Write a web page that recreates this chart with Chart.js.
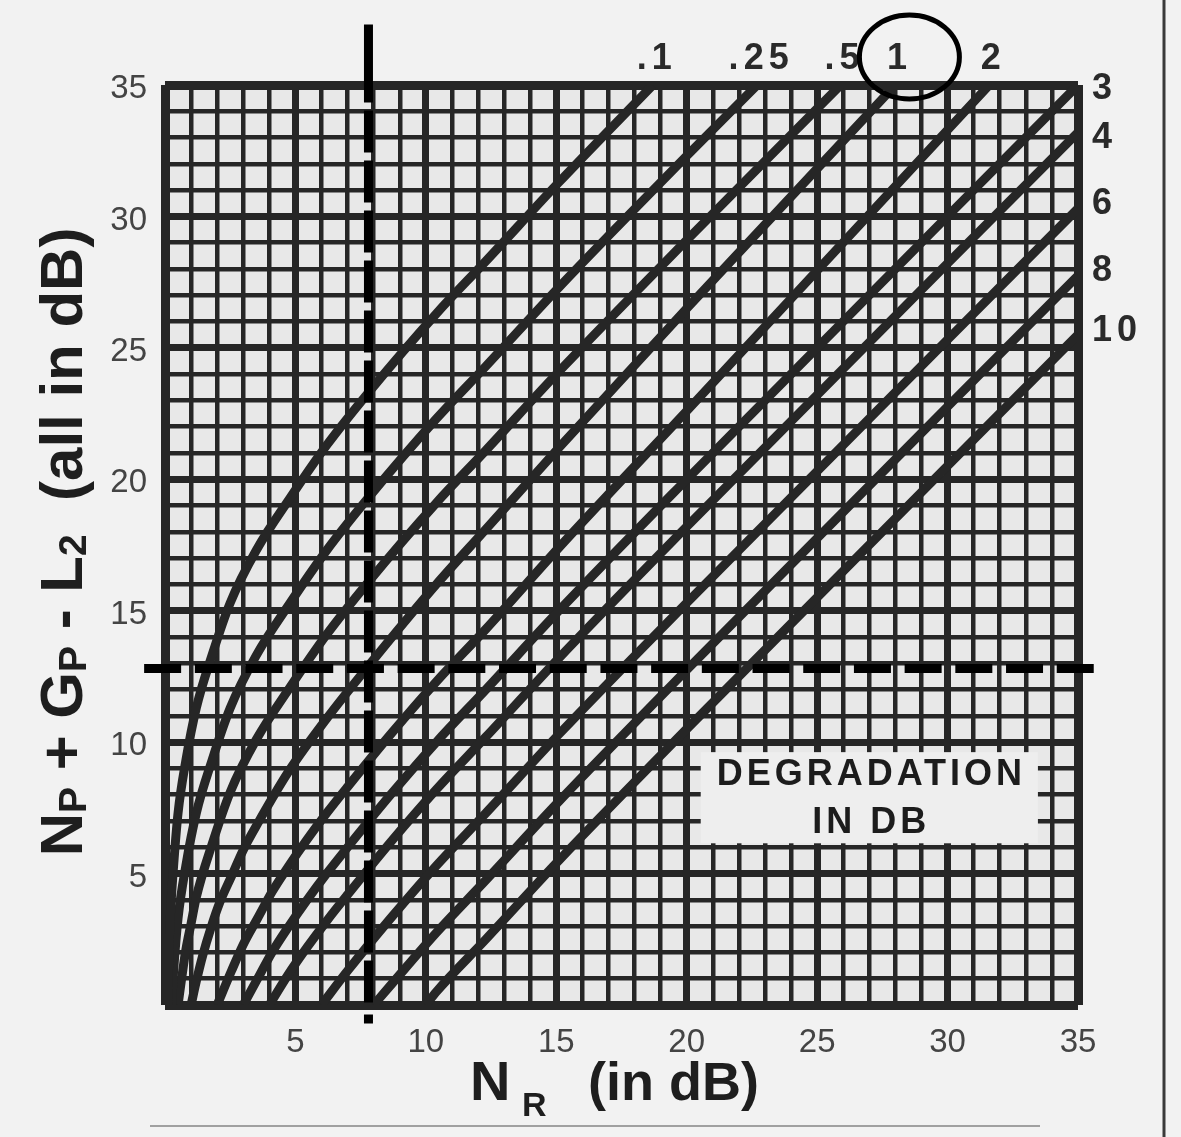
<!DOCTYPE html>
<html lang="en">
<head>
<meta charset="UTF-8">
<title>Noise degradation chart</title>
<style>
  html, body { margin: 0; padding: 0; background: #f2f2f2; }
  canvas { display: block; }
</style>
</head>
<body>
<canvas id="myChart" width="1181" height="1137"></canvas>
<script src="https://cdn.jsdelivr.net/npm/chart.js"></script>
<script>
// degradation curves, [N_R, Np+Gp-L2] in dB
const curveLabels = ['.1', '.25', '.5', '1', '2', '3', '4', '6', '8', '10']
const d01 = [[0.1,0],[0.15,2],[0.2,3.3],[0.33,5.3],[0.5,7.3],[0.8,9.3],[1.2,11.3],[1.8,13.3],[2.5,15.3],[3.5,17.3],[4.8,19.3],[6.2,21.3],[7.8,23.3],[10.4,26.3],[12.3,28.3],[15.1,31.3],[18.7,35]]
const d025 = [[0.25,0],[0.33,1.3],[0.5,3.3],[0.8,5.3],[1.2,7.3],[1.8,9.3],[2.5,11.3],[3.5,13.3],[4.8,15.3],[6.2,17.3],[7.8,19.3],[10.4,22.3],[12.3,24.3],[15.1,27.3],[20,32.3],[22.7,35]]
const d05 = [[0.5,0],[0.65,1.1],[0.8,2.1],[1,3.1],[1.2,4.1],[1.8,6.1],[2.5,8.1],[3.5,10.1],[4.8,12.1],[6.2,14.1],[7.8,16.1],[10.4,19.1],[12.3,21.1],[15.1,24.1],[20,29.1],[25.9,35]]
const d1 = [[1,0],[1.2,0.9],[1.45,1.9],[1.75,2.9],[2.1,3.9],[2.55,4.9],[3,5.9],[3.55,6.9],[4.75,8.9],[6.2,10.9],[7.8,12.9],[10.4,16],[12.3,18.1],[15.1,21.2],[20,26.5],[28,35]]
const d2 = [[2,0],[2.55,1.3],[3,2.3],[3.55,3.3],[4.1,4.3],[4.75,5.3],[5.45,6.3],[6.2,7.3],[7,8.3],[8.65,10.3],[10.4,12.3],[12.3,14.3],[15.1,17.4],[20,22.6],[31.6,35]]
const d3 = [[3,0],[3.55,1],[4.1,2],[4.75,3],[5.45,4],[6.2,5],[7,6],[8.65,8],[10.4,10],[12.3,12],[15.1,15],[20,20],[35,35]]
const d4 = [[4,0],[4.75,1.2],[5.45,2.2],[6.2,3.2],[7,4.2],[8.65,6.2],[10.4,8.2],[12.3,10.2],[15.1,13.2],[20,18.2],[35,33.2]]
const d6 = [[6,0],[7,1.3],[8.65,3.3],[10.4,5.3],[12.3,7.3],[15.1,10.3],[20,15.3],[35,30.3]]
const d8 = [[8,0],[8.65,0.75],[10.4,2.75],[12.3,4.75],[15.1,7.75],[20,12.75],[35,27.75]]
const d10 = [[10,0],[10.4,0.5],[12.3,2.5],[15.1,5.5],[20,10.5],[35,25.5]]
const curves = [d01, d025, d05, d1, d2, d3, d4, d6, d8, d10]

// worked example: the dashed cross hairs and the circled curve
const markNR = 7.8
const markY = 12.8
const circledLabel = '1'

// box holding the "DEGRADATION IN DB" note, in axis units
const boxNR = [20, 34]
const boxY = [6, 10]

const FONT = "'Liberation Sans', Arial, Helvetica, sans-serif"
const ink = '#262626'

// dash pattern of the vertical hair: long lead, even dashes, a stray dash below the frame
let vDash = [78, 8]
for (let i = 0; i < 18; i++) vDash.push(42, 8)
vDash[vDash.length - 1] = 12
vDash.push(9, 200)

let datasets = []
datasets.push({
    data: [{x: -0.8, y: markY}, {x: 35.7, y: markY}],
    showLine: true, borderColor: '#000', borderWidth: 9, borderDash: [37, 13.7],
    pointRadius: 0, clip: false
})
datasets.push({
    data: [{x: markNR, y: 37.3}, {x: markNR, y: -1.2}],
    showLine: true, borderColor: '#000', borderWidth: 9, borderDash: vDash,
    pointRadius: 0, clip: false
})
curves.forEach((pts, i) => {
    datasets.push({
        label: curveLabels[i],
        data: pts.map(p => ({x: p[0], y: p[1]})),
        showLine: true, borderColor: ink, borderWidth: 9,
        pointRadius: 0, cubicInterpolationMode: 'monotone'
    })
})

function gridWidth(c) {
    const v = c.tick ? c.tick.value : 1
    if (v === 0 || v === 35) return 9
    return v % 5 === 0 ? 7 : 4.5
}

// text made of normal and subscript pieces
function drawPieces(ctx, pieces, x, y, size, subSize, drop) {
    let cx = x
    pieces.forEach(p => {
        ctx.font = 'bold ' + (p[1] ? subSize : size) + 'px ' + FONT
        ctx.fillText(p[0], cx, y + (p[1] ? drop : 0))
        cx += ctx.measureText(p[0]).width
    })
}
function piecesWidth(ctx, pieces, size, subSize) {
    let w = 0
    pieces.forEach(p => {
        ctx.font = 'bold ' + (p[1] ? subSize : size) + 'px ' + FONT
        w += ctx.measureText(p[0]).width
    })
    return w
}

const labelNudge = { '4': 10, '3': 2 }

const decor = {
    id: 'decor',
    beforeDraw(chart) {
        const {ctx, chartArea: a, width, height} = chart
        ctx.save()
        ctx.fillStyle = '#f2f2f2'
        ctx.fillRect(0, 0, width, height)
        ctx.fillStyle = '#e8e8e8'
        ctx.fillRect(a.left, a.top, a.right - a.left, a.bottom - a.top)
        // edges of the scanned page
        ctx.strokeStyle = '#3a3a3a'
        ctx.lineWidth = 3
        ctx.beginPath(); ctx.moveTo(1164, 0); ctx.lineTo(1164, height); ctx.stroke()
        ctx.strokeStyle = '#a0a0a0'
        ctx.lineWidth = 2
        ctx.beginPath(); ctx.moveTo(150, 1126); ctx.lineTo(1040, 1126); ctx.stroke()
        ctx.restore()
    },
    beforeDatasetsDraw(chart) {
        const {ctx, scales: {x, y}} = chart
        const l = x.getPixelForValue(boxNR[0]), r = x.getPixelForValue(boxNR[1])
        const t = y.getPixelForValue(boxY[1]), b = y.getPixelForValue(boxY[0])
        ctx.save()
        ctx.fillStyle = '#eeeeee'
        ctx.fillRect(l + 14, t + 10, r - l - 28, b - t - 14)
        ctx.fillStyle = '#1c1c1c'
        ctx.font = 'bold 36px ' + FONT
        ctx.letterSpacing = '4px'
        ctx.textAlign = 'center'
        ctx.textBaseline = 'middle'
        const mid = (l + r) / 2 + 2
        ctx.fillText('DEGRADATION', mid, (t + b) / 2 - 20)
        ctx.fillText('IN DB', mid, (t + b) / 2 + 28)
        ctx.restore()
    },
    afterDraw(chart) {
        const {ctx, chartArea: a, scales: {x, y}} = chart
        ctx.save()
        ctx.fillStyle = '#2a2a2a'
        ctx.font = 'bold 36px ' + FONT
        ctx.letterSpacing = '5px'
        ctx.textBaseline = 'middle'
        curves.forEach((pts, i) => {
            const last = pts[pts.length - 1]
            const lab = curveLabels[i]
            if (last[0] >= 35) {
                ctx.textAlign = 'left'
                const py = Math.max(y.getPixelForValue(last[1]) - 4, a.top + 2) + (labelNudge[lab] || 0)
                ctx.fillText(lab, a.right + 14, py)
            } else {
                ctx.textAlign = 'center'
                const px = x.getPixelForValue(last[0]) + 4
                ctx.fillText(lab, px, a.top - 26)
                if (lab === circledLabel) {
                    ctx.strokeStyle = '#000'
                    ctx.lineWidth = 5
                    ctx.beginPath()
                    ctx.ellipse(px + 10, a.top - 28, 50, 42, 0, 0, Math.PI * 2)
                    ctx.stroke()
                }
            }
        })

        // axis titles with subscripts
        ctx.letterSpacing = '0px'
        ctx.fillStyle = '#1e1e1e'
        ctx.textAlign = 'left'
        ctx.textBaseline = 'alphabetic'
        const yTitle = [['N', 0], ['P', 1], [' + G', 0], ['P', 1], [' - L', 0], ['2', 1], ['  (all in dB)', 0]]
        const yw = piecesWidth(ctx, yTitle, 60, 39)
        ctx.save()
        ctx.translate(82, 542)
        ctx.rotate(-Math.PI / 2)
        drawPieces(ctx, yTitle, -yw / 2, 0, 60, 39, 4)
        ctx.restore()

        ctx.font = 'bold 56px ' + FONT
        ctx.fillText('N', 470, 1100)
        ctx.font = 'bold 34px ' + FONT
        ctx.fillText('R', 522, 1116)
        ctx.font = 'bold 54px ' + FONT
        ctx.fillText('(in dB)', 588, 1100)
        ctx.restore()
    }
}

new Chart(document.getElementById('myChart'), {
    type: 'scatter',
    data: { datasets: datasets },
    options: {
        responsive: false,
        animation: false,
        layout: { padding: { top: 85, right: 103, left: 0, bottom: 0 } },
        plugins: { legend: { display: false }, tooltip: { enabled: false } },
        scales: {
            x: {
                type: 'linear', min: 0, max: 35,
                border: { display: false },
                grid: { color: ink, lineWidth: gridWidth, drawTicks: false },
                ticks: {
                    stepSize: 1, autoSkip: false, maxRotation: 0, padding: 18,
                    color: '#444', font: { family: FONT, size: 33 },
                    callback: v => (v % 5 === 0 && v > 0) ? v : ''
                },
                afterFit: s => { s.height = 132 }
            },
            y: {
                type: 'linear', min: 0, max: 35,
                border: { display: false },
                grid: { color: ink, lineWidth: gridWidth, drawTicks: false },
                ticks: {
                    stepSize: 1, autoSkip: false, padding: 18, labelOffset: 4,
                    color: '#444', font: { family: FONT, size: 33 },
                    callback: v => (v % 5 === 0 && v > 0) ? v : ''
                },
                afterFit: s => { s.width = 165 }
            }
        }
    },
    plugins: [decor]
})
</script>
</body>
</html>
